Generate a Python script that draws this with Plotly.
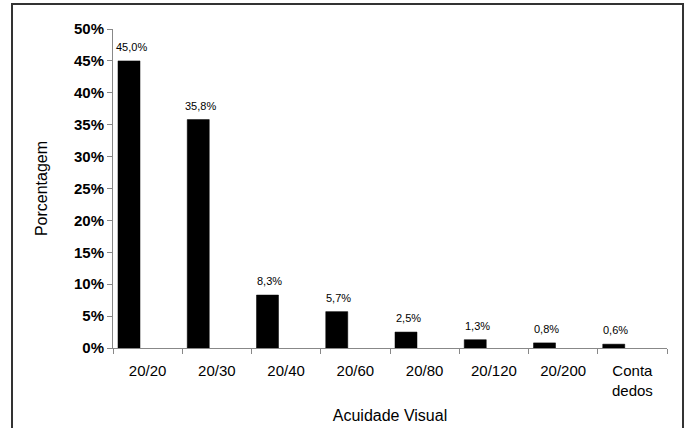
import plotly.graph_objects as go

categories = ["20/20", "20/30", "20/40", "20/60", "20/80", "20/120", "20/200", "Conta<br>dedos"]
values = [45.0, 35.8, 8.3, 5.7, 2.5, 1.3, 0.8, 0.6]
y_ticks = [0, 5, 10, 15, 20, 25, 30, 35, 40, 45, 50]
y_tick_labels = [f"{v}%" for v in y_ticks]
value_labels = [f"{v:.1f}%".replace(".", ",") for v in values]

BAR_WIDTH = 0.318
BAR_OFFSET = -0.428

fig = go.Figure()
fig.add_trace(go.Bar(
    x=categories, y=values,
    marker=dict(color="black", line=dict(color="black", width=0.5)),
    width=BAR_WIDTH, offset=BAR_OFFSET,
    cliponaxis=False,
))

# value labels above bars (x offset to bar centre: (offset + width/2) * 69.25 px)
shift_px = (BAR_OFFSET + BAR_WIDTH / 2) * 69.25
annotations = [
    dict(x=c, y=v, text=t, xref="x", yref="y", showarrow=False,
         yanchor="bottom", yshift=6, xshift=shift_px + 2,
         font=dict(family="Liberation Sans, Arial", size=11, color="black"))
    for c, v, t in zip(categories, values, value_labels)
]

fig.update_layout(
    width=687, height=428,
    margin=dict(l=113, r=20, t=29, b=80),
    paper_bgcolor="white", plot_bgcolor="white",
    showlegend=False,
    font=dict(family="Liberation Sans, Arial", color="black"),
    annotations=annotations,
    shapes=[dict(type="rect", xref="paper", yref="paper",
                 x0=-0.1823, x1=1.0289, y0=-0.35, y1=1.0784,
                 line=dict(color="#333333", width=2), layer="below")],
)
fig.update_xaxes(
    automargin=False,
    showline=True, linecolor="#888888", linewidth=1,
    ticks="outside", tickson="boundaries", ticklen=5, tickcolor="#888888",
    ticklabelstandoff=9,
    tickfont=dict(size=15, color="black"),
    title=dict(text="Acuidade Visual", font=dict(size=16), standoff=12),
)
fig.update_yaxes(
    automargin=False,
    range=[0, 50], tickvals=y_ticks, ticktext=y_tick_labels,
    showline=True, linecolor="#888888", linewidth=1,
    ticks="outside", ticklen=5, tickcolor="#888888",
    showgrid=False, zeroline=False,
    tickfont=dict(size=15, color="black", weight="bold"),
    title=dict(text="Porcentagem", font=dict(size=16), standoff=22),
)

fig.write_html("out.html")
